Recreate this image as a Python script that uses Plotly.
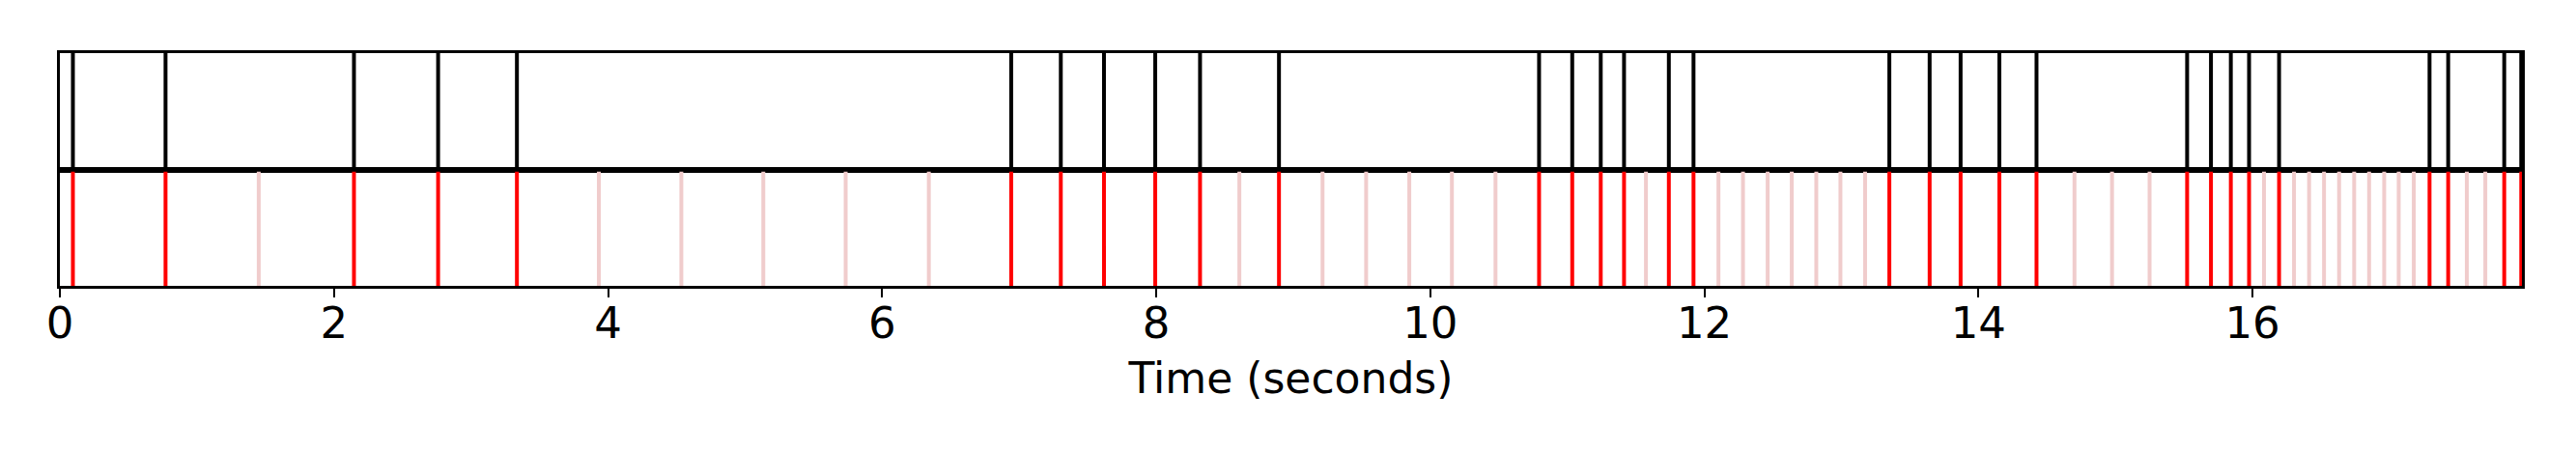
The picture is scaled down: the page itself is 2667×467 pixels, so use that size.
import plotly.graph_objects as go

# Detected onsets (seconds) - black in top panel, red in bottom panel
onset_times = [0.095, 0.771, 2.146, 2.760, 3.335, 6.942, 7.304, 7.619, 7.993,
               8.320, 8.896, 10.794, 11.036, 11.244, 11.414, 11.741, 11.921,
               13.350, 13.644, 13.870, 14.153, 14.424, 15.523, 15.697, 15.842,
               15.975, 16.194, 17.292, 17.428, 17.837, 17.961]

# Additional (estimated) beat positions - light pink in bottom panel
beat_times = [1.451, 3.933, 4.535, 5.133, 5.734, 6.341, 8.607, 9.214, 9.532,
              9.847, 10.158, 10.476, 11.574, 12.103, 12.282, 12.462, 12.638,
              12.817, 12.993, 13.173, 14.701, 14.975, 15.249, 16.084, 16.303,
              16.413, 16.522, 16.632, 16.742, 16.851, 16.961, 17.067, 17.177,
              17.564, 17.699]

x_max = 17.966
tick_vals = [0, 2, 4, 6, 8, 10, 12, 14, 16]


def vlines(times):
    xs, ys = [], []
    for t in times:
        xs += [t, t, None]
        ys += [0, 1, None]
    return xs, ys


fig = go.Figure()

bx, by = vlines(onset_times)
fig.add_trace(go.Scatter(x=bx, y=by, mode="lines", line=dict(color="black", width=4),
                         xaxis="x", yaxis="y", hoverinfo="skip", showlegend=False))

px, py = vlines(beat_times)
fig.add_trace(go.Scatter(x=px, y=py, mode="lines", line=dict(color="#f0cccc", width=4),
                         xaxis="x2", yaxis="y2", hoverinfo="skip", showlegend=False))

rx, ry = vlines(onset_times)
fig.add_trace(go.Scatter(x=rx, y=ry, mode="lines", line=dict(color="red", width=4),
                         xaxis="x2", yaxis="y2", hoverinfo="skip", showlegend=False))

axis_common = dict(showline=True, linecolor="black", linewidth=2.8, mirror=True,
                   showgrid=False, zeroline=False)

fig.update_layout(
    width=2667, height=467,
    margin=dict(l=62, r=56, t=55, b=171),
    paper_bgcolor="white", plot_bgcolor="white",
    font=dict(family="DejaVu Sans", size=44, color="black"),
    xaxis=dict(range=[0, x_max], showticklabels=False, ticks="", anchor="y",
               **axis_common),
    yaxis=dict(range=[0, 1], domain=[0.5, 1], showticklabels=False, ticks="",
               anchor="x", **axis_common),
    xaxis2=dict(range=[0, x_max], matches="x", anchor="y2", tickmode="array",
                tickvals=tick_vals, ticktext=[str(v) for v in tick_vals],
                ticks="outside", ticklen=9, tickwidth=2, tickcolor="black",
                ticklabelstandoff=-12,
                tickfont=dict(size=45, family="DejaVu Sans"),
                title=dict(text="Time (seconds)", font=dict(size=44, family="DejaVu Sans"),
                           standoff=17),
                **axis_common),
    yaxis2=dict(range=[0, 1], domain=[0, 0.5], showticklabels=False, ticks="",
                anchor="x2", **axis_common),
    shapes=[dict(type="line", xref="paper", yref="paper", x0=0, x1=1, y0=0.5, y1=0.5,
                 line=dict(color="black", width=4.5), layer="above")],
)

fig.write_html("out.html", config={"displayModeBar": False},
               post_script="document.body.style.margin='0px';")
